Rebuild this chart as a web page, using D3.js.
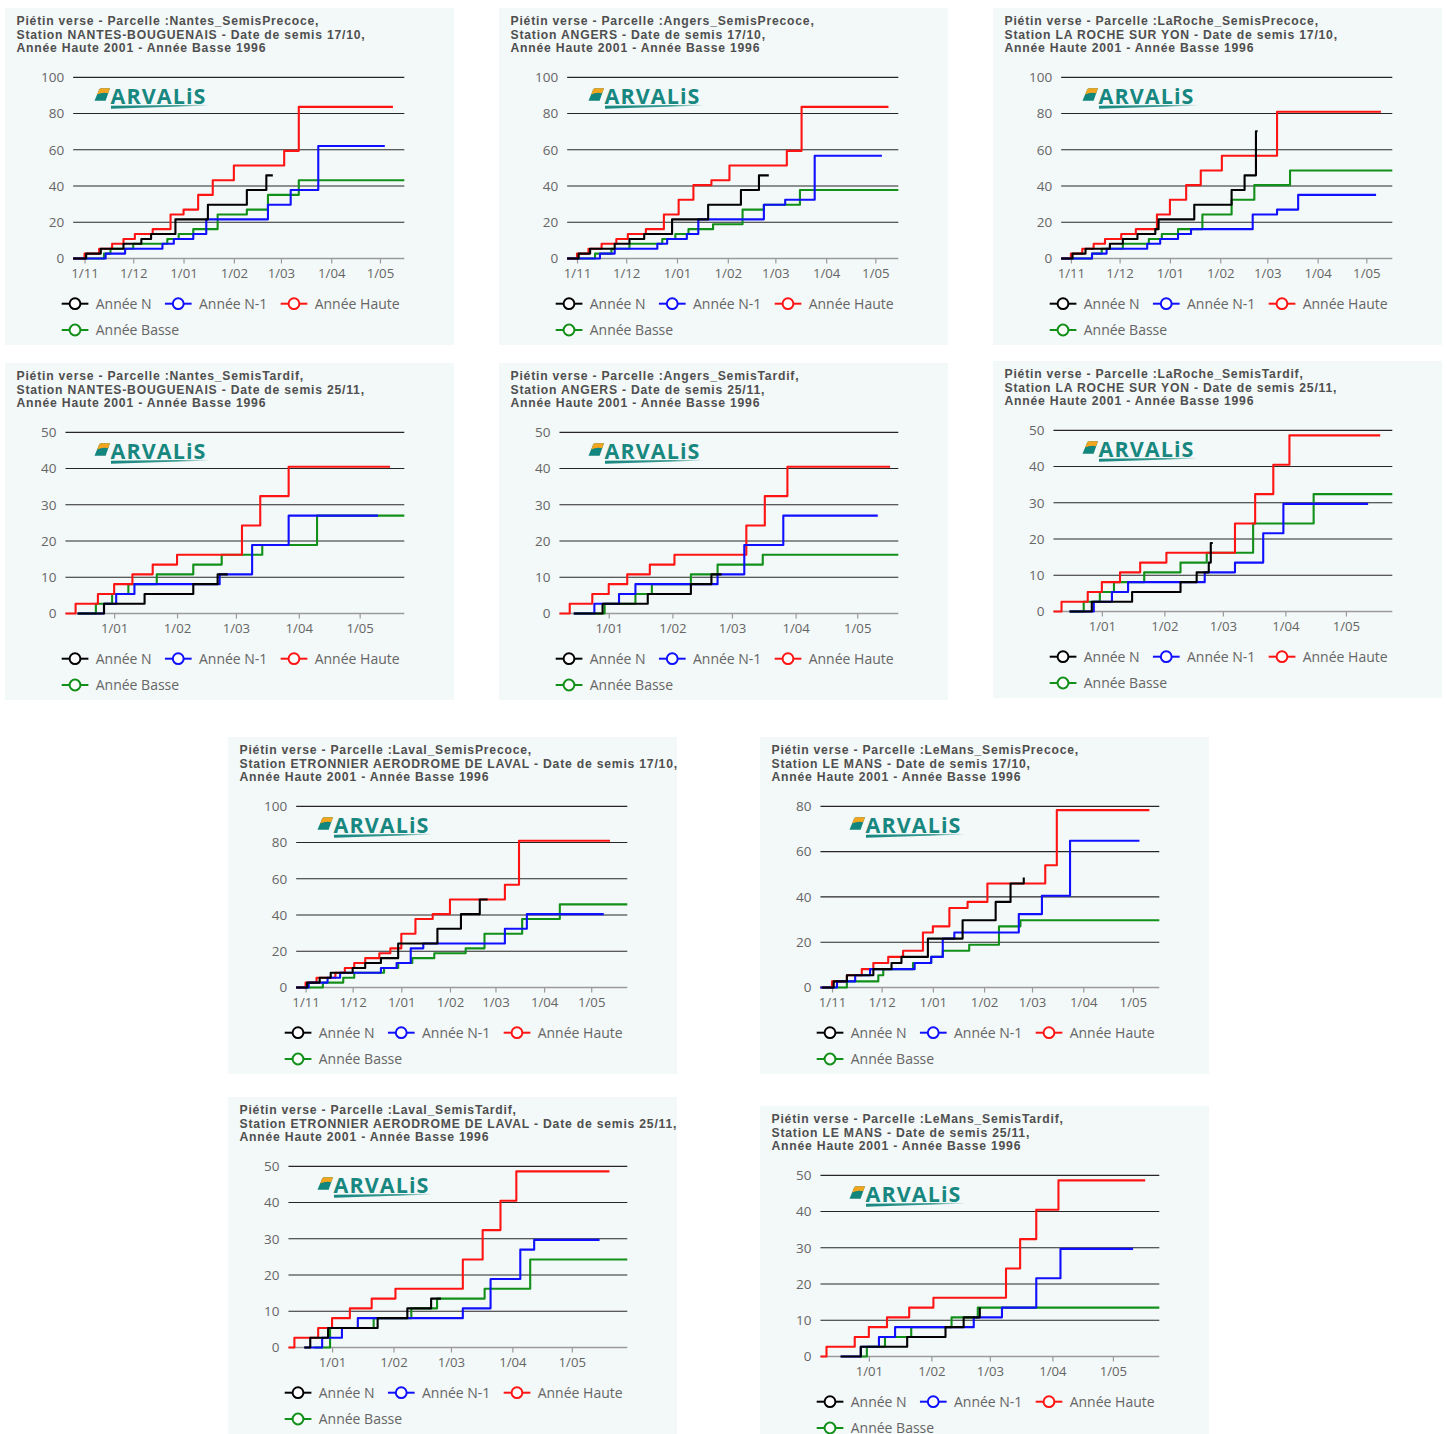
<!DOCTYPE html>
<html><head><meta charset="utf-8">
<script src="https://cdn.jsdelivr.net/npm/d3@7"></script>
<style>
html,body{margin:0;padding:0;background:#fff;}
svg{display:block;font-family:"Open Sans","Noto Sans",sans-serif;}
</style></head><body>
<svg id="c" width="1447" height="1434"></svg>
<script>
// ---------------- DATA ----------------
const seriesNames = ["Année N", "Année N-1", "Année Haute", "Année Basse"];

const panelTitles = [
  ["Piétin verse - Parcelle :Nantes_SemisPrecoce,", "Station NANTES-BOUGUENAIS - Date de semis 17/10,", "Année Haute 2001 - Année Basse 1996"],
  ["Piétin verse - Parcelle :Angers_SemisPrecoce,", "Station ANGERS - Date de semis 17/10,", "Année Haute 2001 - Année Basse 1996"],
  ["Piétin verse - Parcelle :LaRoche_SemisPrecoce,", "Station LA ROCHE SUR YON - Date de semis 17/10,", "Année Haute 2001 - Année Basse 1996"],
  ["Piétin verse - Parcelle :Nantes_SemisTardif,", "Station NANTES-BOUGUENAIS - Date de semis 25/11,", "Année Haute 2001 - Année Basse 1996"],
  ["Piétin verse - Parcelle :Angers_SemisTardif,", "Station ANGERS - Date de semis 25/11,", "Année Haute 2001 - Année Basse 1996"],
  ["Piétin verse - Parcelle :LaRoche_SemisTardif,", "Station LA ROCHE SUR YON - Date de semis 25/11,", "Année Haute 2001 - Année Basse 1996"],
  ["Piétin verse - Parcelle :Laval_SemisPrecoce,", "Station ETRONNIER AERODROME DE LAVAL - Date de semis 17/10,", "Année Haute 2001 - Année Basse 1996"],
  ["Piétin verse - Parcelle :LeMans_SemisPrecoce,", "Station LE MANS - Date de semis 17/10,", "Année Haute 2001 - Année Basse 1996"],
  ["Piétin verse - Parcelle :Laval_SemisTardif,", "Station ETRONNIER AERODROME DE LAVAL - Date de semis 25/11,", "Année Haute 2001 - Année Basse 1996"],
  ["Piétin verse - Parcelle :LeMans_SemisTardif,", "Station LE MANS - Date de semis 25/11,", "Année Haute 2001 - Année Basse 1996"]
];

const yMaxValues = [100, 100, 100, 50, 50, 50, 100, 80, 50, 50];
const yStepValues = [20, 20, 20, 10, 10, 10, 20, 20, 10, 10];

const xDomains = [
  ["10-25", "05-16"], ["10-26", "05-15"], ["10-26", "05-17"],
  ["12-08", "05-23"], ["12-08", "05-21"], ["12-08", "05-24"],
  ["10-26", "05-24"], ["10-25", "05-17"],
  ["12-10", "05-29"], ["12-08", "05-24"]
];

const monthTickDates = ["11-01", "12-01", "01-01", "02-01", "03-01", "04-01", "05-01"];

const anneeN = [
  [["10-25",0],["11-02",2.7],["11-11",5.4],["11-25",8.1],["12-06",10.8],["12-12",13.5],["12-27",21.6],["01-16",29.7],["02-09",37.8],["02-21",45.9],["02-25",45.9]],
  [["10-26",0],["11-02",2.7],["11-09",5.4],["11-24",8.1],["12-03",10.8],["12-12",13.5],["12-29",21.6],["01-20",29.7],["02-09",37.8],["02-20",45.9],["02-26",45.9]],
  [["10-26",0],["11-02",2.7],["11-10",5.4],["11-25",8.1],["12-03",10.8],["12-12",13.5],["12-23",16.2],["12-25",21.6],["01-16",29.7],["02-08",37.8],["02-16",45.9],["02-23",70.2],["02-24",70.2]],
  [["12-14",0],["12-27",2.7],["01-16",5.4],["02-09",8.1],["02-21",10.8],["02-26",10.8]],
  [["12-15",0],["12-29",2.7],["01-20",5.4],["02-10",8.1],["02-20",10.8],["02-25",10.8]],
  [["12-16",0],["12-27",2.7],["01-16",5.4],["02-09",8.1],["02-17",10.8],["02-23",13.5],["02-24",18.9],["02-25",18.9]],
  [["10-26",0],["11-02",2.7],["11-10",5.4],["11-17",8.1],["12-01",10.8],["12-09",13.5],["12-19",16.2],["12-30",24.3],["01-24",32.4],["02-08",40.5],["02-20",48.6],["02-25",48.6]],
  [["10-26",0],["11-02",2.7],["11-10",5.4],["11-26",8.1],["12-07",10.8],["12-13",13.5],["12-29",21.6],["01-19",29.7],["02-08",37.8],["02-17",45.9],["02-25",48.6]],
  [["12-18",0],["12-21",2.7],["12-30",5.4],["01-24",8.1],["02-08",10.8],["02-20",13.5],["02-25",13.5]],
  [["12-18",0],["12-28",2.7],["01-20",5.4],["02-08",8.1],["02-17",10.8],["02-25",13.5]]
];

const anneeN1 = [
  [["10-25",0],["11-14",2.7],["11-26",5.4],["12-19",8.1],["12-26",10.8],["01-07",13.5],["01-15",21.6],["02-22",29.7],["03-07",37.8],["03-24",62.1],["05-04",62.1]],
  [["10-26",0],["11-15",2.7],["11-24",5.4],["12-20",8.1],["12-26",10.8],["01-07",13.5],["01-14",21.6],["02-23",29.7],["03-07",32.4],["03-25",56.7],["05-05",56.7]],
  [["10-26",0],["11-14",2.7],["11-23",5.4],["12-18",8.1],["12-26",10.8],["01-06",13.5],["01-14",16.2],["02-21",24.3],["03-07",27],["03-20",35.1],["05-07",35.1]],
  [["12-14",0],["12-27",2.7],["01-02",5.4],["01-11",8.1],["02-22",10.8],["03-09",18.9],["03-27",27],["05-10",27]],
  [["12-15",0],["12-25",2.7],["01-06",5.4],["01-14",8.1],["02-23",10.8],["03-07",18.9],["03-26",27],["05-11",27]],
  [["12-16",0],["12-28",2.7],["01-06",5.4],["01-14",8.1],["02-21",10.8],["03-07",13.5],["03-21",21.6],["03-31",29.7],["05-12",29.7]],
  [["10-26",0],["11-03",2.7],["11-15",5.4],["11-23",8.1],["12-19",10.8],["12-29",13.5],["01-07",21.6],["01-15",24.3],["03-07",32.4],["03-21",40.5],["05-09",40.5]],
  [["10-25",0],["11-04",2.7],["11-15",5.4],["11-24",8.1],["12-21",10.8],["12-31",13.5],["01-07",21.6],["01-14",24.3],["02-22",32.4],["03-07",40.5],["03-24",64.8],["05-05",64.8]],
  [["12-18",0],["12-27",2.7],["01-06",5.4],["01-14",8.1],["03-07",10.8],["03-21",18.9],["04-05",27],["04-12",29.7],["05-15",29.7]],
  [["12-18",0],["12-28",2.7],["01-06",5.4],["01-14",8.1],["02-22",10.8],["03-07",13.5],["03-24",21.6],["04-05",29.7],["05-11",29.7]]
];

const anneeHaute = [
  [["10-25",0],["11-01",2.7],["11-10",5.4],["11-18",8.1],["11-25",10.8],["12-02",13.5],["12-13",16.2],["12-24",24.3],["01-01",27],["01-10",35.1],["01-19",43.2],["02-01",51.3],["03-03",59.4],["03-12",83.7],["05-09",83.7]],
  [["10-26",0],["11-01",2.7],["11-08",5.4],["11-16",8.1],["11-25",10.8],["12-02",13.5],["12-13",16.2],["12-24",24.3],["01-02",32.4],["01-11",40.5],["01-22",43.2],["02-02",51.3],["03-08",59.4],["03-17",83.7],["05-09",83.7]],
  [["10-26",0],["11-01",2.7],["11-08",5.4],["11-15",8.1],["11-22",10.8],["12-02",13.5],["12-11",16.2],["12-24",24.3],["01-01",32.4],["01-11",40.5],["01-20",48.6],["02-02",56.7],["03-07",81],["05-10",81]],
  [["12-08",0],["12-13",2.7],["12-24",5.4],["01-01",8.1],["01-10",10.8],["01-20",13.5],["02-01",16.2],["03-04",24.3],["03-13",32.4],["03-27",40.5],["05-16",40.5]],
  [["12-08",0],["12-13",2.7],["12-24",5.4],["01-01",8.1],["01-10",10.8],["01-21",13.5],["02-02",16.2],["03-08",24.3],["03-17",32.4],["03-28",40.5],["05-17",40.5]],
  [["12-08",0],["12-12",2.7],["12-25",5.4],["01-01",8.1],["01-10",10.8],["01-20",13.5],["02-02",16.2],["03-07",24.3],["03-17",32.4],["03-26",40.5],["04-03",48.6],["05-18",48.6]],
  [["10-26",0],["11-01",2.7],["11-08",5.4],["11-20",8.1],["11-26",10.8],["12-02",13.5],["12-09",16.2],["12-18",18.9],["12-25",21.6],["01-01",29.7],["01-10",37.8],["01-21",40.5],["02-01",48.6],["03-07",56.7],["03-16",81],["05-13",81]],
  [["10-25",0],["11-01",2.7],["11-10",5.4],["11-19",8.1],["11-26",10.8],["12-05",13.5],["12-14",16.2],["12-26",24.3],["01-01",27],["01-11",35.1],["01-22",37.8],["02-03",45.9],["03-09",54],["03-16",78.3],["05-11",78.3]],
  [["12-10",0],["12-13",2.7],["12-25",5.4],["01-01",8.1],["01-10",10.8],["01-21",13.5],["02-02",16.2],["03-07",24.3],["03-17",32.4],["03-26",40.5],["04-03",48.6],["05-20",48.6]],
  [["12-08",0],["12-11",2.7],["12-25",5.4],["01-01",8.1],["01-10",10.8],["01-21",13.5],["02-02",16.2],["03-09",24.3],["03-16",32.4],["03-24",40.5],["04-04",48.6],["05-17",48.6]]
];

const anneeBasse = [
  [["10-25",0],["11-13",2.7],["11-17",5.4],["12-01",8.1],["12-22",10.8],["12-29",13.5],["01-07",16.2],["01-22",24.3],["02-09",27],["02-22",35.1],["03-12",43.2],["05-16",43.2]],
  [["10-26",0],["11-12",2.7],["11-22",5.4],["12-03",8.1],["12-23",10.8],["12-31",13.5],["01-08",16.2],["01-23",18.9],["02-10",27],["02-23",29.7],["03-16",37.8],["05-15",37.8]],
  [["10-26",0],["11-14",2.7],["11-20",5.4],["12-03",8.1],["12-19",10.8],["12-27",13.5],["01-06",16.2],["01-21",24.3],["02-08",32.4],["02-22",40.5],["03-15",48.6],["05-17",48.6]],
  [["12-14",0],["12-23",2.7],["12-31",5.4],["01-08",8.1],["01-22",10.8],["02-09",13.5],["02-23",16.2],["03-14",18.9],["04-10",27],["05-23",27]],
  [["12-15",0],["12-30",2.7],["01-14",5.4],["01-22",8.1],["02-10",10.8],["02-23",13.5],["03-16",16.2],["05-21",16.2]],
  [["12-16",0],["12-23",2.7],["12-31",5.4],["01-07",8.1],["01-22",10.8],["02-09",13.5],["02-22",16.2],["03-16",24.3],["04-15",32.4],["05-24",32.4]],
  [["10-26",0],["11-12",2.7],["11-25",5.4],["12-02",8.1],["12-21",10.8],["12-30",13.5],["01-08",16.2],["01-22",18.9],["02-11",21.6],["02-23",29.7],["03-18",37.8],["04-11",45.9],["05-24",45.9]],
  [["10-25",0],["11-10",2.7],["11-29",5.4],["12-02",8.1],["12-20",10.8],["12-31",13.5],["01-07",16.2],["01-23",18.9],["02-10",27],["02-23",29.7],["05-17",29.7]],
  [["12-23",0],["12-31",5.4],["01-22",8.1],["02-10",10.8],["02-23",13.5],["03-18",16.2],["04-10",24.3],["05-29",24.3]],
  [["12-28",0],["12-31",2.7],["01-09",5.4],["01-22",8.1],["02-11",10.8],["02-24",13.5],["05-24",13.5]]
];

// ---------------- LAYOUT / STYLE ----------------
const seriesColors = ["#000000", "#1010ff", "#ff1414", "#12901a"];
const seriesData = [anneeN, anneeN1, anneeHaute, anneeBasse];
const drawOrder = [3, 2, 1, 0];
const panelOrigins = [[5,8],[499,8],[993,8],[5,363],[499,363],[993,361],[228,737],[760,737],[228,1097],[760,1106]];
const PW = 449, PH = 337;
const plotTop = 69.3, plotBottom = 250.5, plotRight = 399.3;
const TEAL = "#17877f";
const BG = "#f3f8f8";
const TITLE_FONT = "'Liberation Sans', Arial, sans-serif";
const TITLE_LINE = 13.7;

function seasonDate(s) {
  const [m, d] = s.split("-").map(Number);
  return new Date(m >= 8 ? 2023 : 2024, m - 1, d);
}

const svg = d3.select("#c");
const defs = svg.append("defs");
const grad = defs.append("linearGradient").attr("id", "swoosh").attr("x1", "0").attr("x2", "1").attr("y1", "0").attr("y2", "0");
grad.append("stop").attr("offset", "0").attr("stop-color", TEAL).attr("stop-opacity", 1);
grad.append("stop").attr("offset", "0.65").attr("stop-color", TEAL).attr("stop-opacity", 0.85);
grad.append("stop").attr("offset", "1").attr("stop-color", TEAL).attr("stop-opacity", 0.05);

// fit title font to the reference width of the first title line
const TITLE_TARGET = 303;
const tmp = svg.append("text").style("font-family", TITLE_FONT).attr("font-weight", 700).attr("font-size", 12).text(panelTitles[0][0]);
const tw12 = tmp.node().getComputedTextLength();
tmp.remove();
const titleSize = Math.min(12.2, 12 * TITLE_TARGET / tw12);
const titleSpacing = Math.max(0, (TITLE_TARGET - tw12 * titleSize / 12) / panelTitles[0][0].length);

// fit logo word width
const LOGO_SIZE = 21.5;
const tmp2 = svg.append("text").attr("font-weight", 700).attr("font-size", LOGO_SIZE).text("ARVALiS");
const lw = tmp2.node().getComputedTextLength();
tmp2.remove();
const logoSpacing = Math.max(0, (96 - lw) / 7);

function drawLogo(g) {
  const lg = g.append("g");
  lg.append("path").attr("d", "M89.5,92.8 L94.2,81.6 Q94.8,80.2 96.4,80.2 L105,80.2 L100.6,92.8 Z").attr("fill", "#12867c");
  lg.append("path").attr("d", "M92.2,86.4 L94.2,81.6 Q94.8,80.2 96.4,80.2 L105,80.2 L103.1,85.2 Q97.5,84 92.2,86.4 Z").attr("fill", "#f2a51f");
  lg.append("text").attr("x", 105.5).attr("y", 95.8).attr("font-size", LOGO_SIZE).attr("font-weight", 700)
    .attr("fill", TEAL).attr("letter-spacing", logoSpacing).text("ARVALiS");
  lg.append("path").attr("d", "M106,97.8 L200,96.8 L206,97.4 L106,100.8 Z").attr("fill", "url(#swoosh)");
}

panelTitles.forEach((titles, i) => {
  const [ox, oy] = panelOrigins[i];
  const g = svg.append("g").attr("transform", `translate(${ox},${oy})`);
  const clipId = "clip" + i;
  defs.append("clipPath").attr("id", clipId).append("rect").attr("width", PW).attr("height", PH);
  g.attr("clip-path", `url(#${clipId})`);
  g.append("rect").attr("width", PW).attr("height", PH).attr("fill", BG);

  // multi-line title
  const title = g.append("text").attr("x", 11.5).attr("y", 17).attr("font-size", titleSize)
    .style("font-family", TITLE_FONT).attr("font-weight", 700).attr("letter-spacing", titleSpacing).attr("fill", "#4f4f4f");
  titles.forEach((t, k) => {
    title.append("tspan").attr("x", 11.5).attr("y", 17 + k * TITLE_LINE).text(t);
  });

  // y scale & axis
  const y = d3.scaleLinear().domain([0, yMaxValues[i]]).range([plotBottom, plotTop]);
  const yTicks = d3.range(0, yMaxValues[i] + 0.001, yStepValues[i]);
  const yAxisG = g.append("g");
  yAxisG.call(d3.axisLeft(y).tickValues(yTicks).tickSize(0).tickPadding(0));
  yAxisG.select(".domain").remove();
  yAxisG.attr("font-family", null).attr("font-size", null);
  yAxisG.selectAll("text").attr("font-size", 13.5).attr("fill", "#666");
  let maxW = 0;
  yAxisG.selectAll("text").each(function () { maxW = Math.max(maxW, this.getComputedTextLength()); });
  const plotLeft = 36 + maxW + 9;
  yAxisG.attr("transform", `translate(${plotLeft - 9},0)`);

  // grid
  yTicks.forEach(v => {
    g.append("line").attr("x1", plotLeft).attr("x2", plotRight).attr("y1", y(v)).attr("y2", y(v))
      .attr("stroke", v === 0 ? "#9a9a9a" : "#262626").attr("stroke-width", v === 0 ? 1.6 : 1.15);
  });

  // x scale & axis
  const x = d3.scaleTime().domain([seasonDate(xDomains[i][0]), seasonDate(xDomains[i][1])]).range([plotLeft, plotRight]);
  const dom = x.domain();
  const tickVals = monthTickDates.map(seasonDate).filter(d => d >= dom[0] && d <= dom[1]);
  const xAxisG = g.append("g").attr("transform", `translate(0,${plotBottom})`);
  xAxisG.call(d3.axisBottom(x).tickValues(tickVals).tickFormat(d3.timeFormat("%-d/%m")).tickSize(5).tickPadding(5));
  xAxisG.select(".domain").remove();
  xAxisG.attr("font-family", null).attr("font-size", null);
  xAxisG.selectAll("line").attr("stroke", "#9a9a9a").attr("stroke-width", 1.2);
  xAxisG.selectAll("text").attr("font-size", 13.2).attr("fill", "#666");

  drawLogo(g);

  // series
  const line = d3.line().x(d => x(seasonDate(d[0]))).y(d => y(d[1])).curve(d3.curveStepAfter);
  drawOrder.forEach(s => {
    g.append("path").datum(seriesData[s][i]).attr("d", line).attr("fill", "none")
      .attr("stroke", seriesColors[s]).attr("stroke-width", 2.1).attr("stroke-linejoin", "round");
  });

  // legend
  let lx = 56.7, row = 0;
  const rowY = [295.7, 322];
  seriesNames.forEach((name, s) => {
    const item = g.append("g");
    const txt = item.append("text").attr("x", 34).attr("y", 0).attr("dy", "0.35em")
      .attr("font-size", 14).attr("fill", "#666").text(name);
    const w = 34 + txt.node().getComputedTextLength();
    if (lx + w > 405) { row += 1; lx = 56.7; }
    item.attr("transform", `translate(${lx},${rowY[row]})`);
    item.append("line").attr("x1", 0).attr("x2", 26.7).attr("y1", 0).attr("y2", 0)
      .attr("stroke", seriesColors[s]).attr("stroke-width", 2);
    item.append("circle").attr("cx", 13.3).attr("cy", 0).attr("r", 5.4).attr("fill", "#fff")
      .attr("stroke", seriesColors[s]).attr("stroke-width", 2);
    lx += w + 13.3;
  });
});
</script>
</body></html>
